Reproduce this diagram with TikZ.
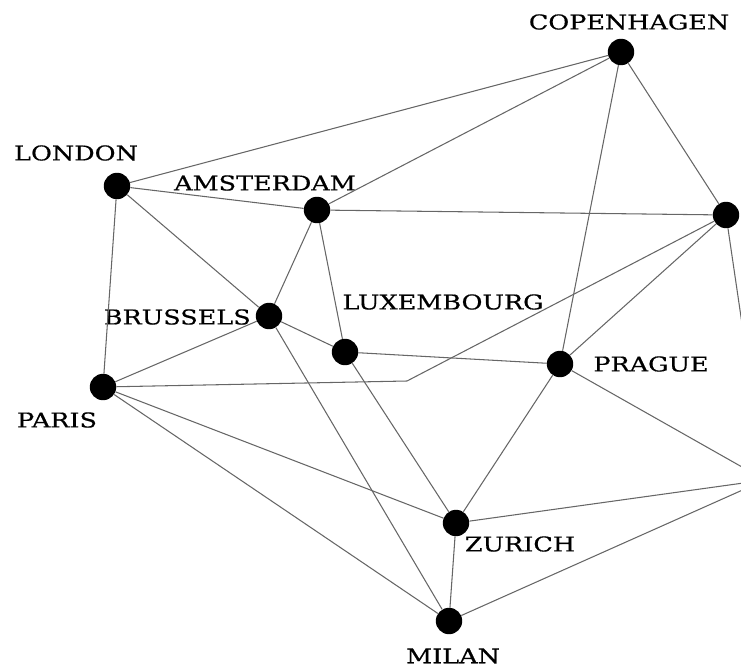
\documentclass[tikz,border=0pt]{standalone}
\usepackage{fontspec}
\usepackage{tikz}
\usetikzlibrary{positioning}
\newfontfamily\cityfont[FakeStretch=1.25,FakeBold=0.6]{DejaVu Serif}

\begin{document}
\begin{tikzpicture}[x=0.025cm,y=-0.025cm,
    city/.style={circle,fill=black,inner sep=0pt,minimum width=0.66cm,minimum height=0.6cm},
    lbl/.style={inner sep=0pt,font=\cityfont\fontsize{14.5}{16}\selectfont},
    road/.style={draw=black!60,line width=0.75pt}]
    \useasboundingbox (0,0) rectangle (741,669);
    \clip (0,0) rectangle (741,669);
    % cities
    \node[city] (cph) at (621,52) {};
    \node[city] (ldn) at (117,186) {};
    \node[city] (ams) at (317,210) {};
    \node[city] (ber) at (726,215) {};
    \node[city] (bru) at (269,316) {};
    \node[city] (lux) at (345,352) {};
    \node[city] (prg) at (560,364) {};
    \node[city] (par) at (103,387) {};
    \node[city] (zrh) at (456,523) {};
    \node[city] (mil) at (449,621) {};
    \node[city] (vie) at (765,480) {};
    \coordinate (bend) at (407,381);
    % names
    \node[lbl] (cph-l) at (629,22) {COPENHAGEN};
    \node[lbl] (ldn-l) at (76,153) {LONDON};
    \node[lbl] (ams-l) at (265,183) {AMSTERDAM};
    \node[lbl,anchor=east] (bru-l) at (251,317) {BRUSSELS};
    \node[lbl] (lux-l) at (443,302) {LUXEMBOURG};
    \node[lbl] (prg-l) at (651,364) {PRAGUE};
    \node[lbl] (par-l) at (57,420) {PARIS};
    \node[lbl] (zrh-l) at (520,544) {ZURICH};
    \node[lbl] (mil-l) at (453,656) {MILAN};
    % roads
    \draw[road]
    (ldn) edge (cph)
    (ldn) edge (ams)
    (ldn) edge (bru)
    (ldn) edge (par)
    (ams) edge (cph)
    (ams) edge (ber)
    (ams) edge (bru)
    (ams) edge (lux)
    (cph) edge (prg)
    (cph) edge (ber)
    (ber) edge (prg)
    (ber) edge (vie)
    (bru) edge (par)
    (bru) edge (lux)
    (bru) edge (mil)
    (lux) edge (prg)
    (lux) edge (zrh)
    (par) edge (zrh)
    (par) edge (mil)
    (prg) edge (zrh)
    (prg) edge (vie)
    (zrh) edge (mil)
    (zrh) edge (vie)
    (mil) edge (vie);
    \draw[road] (par) -- (bend) -- (ber);
  \end{tikzpicture}
\end{document}
